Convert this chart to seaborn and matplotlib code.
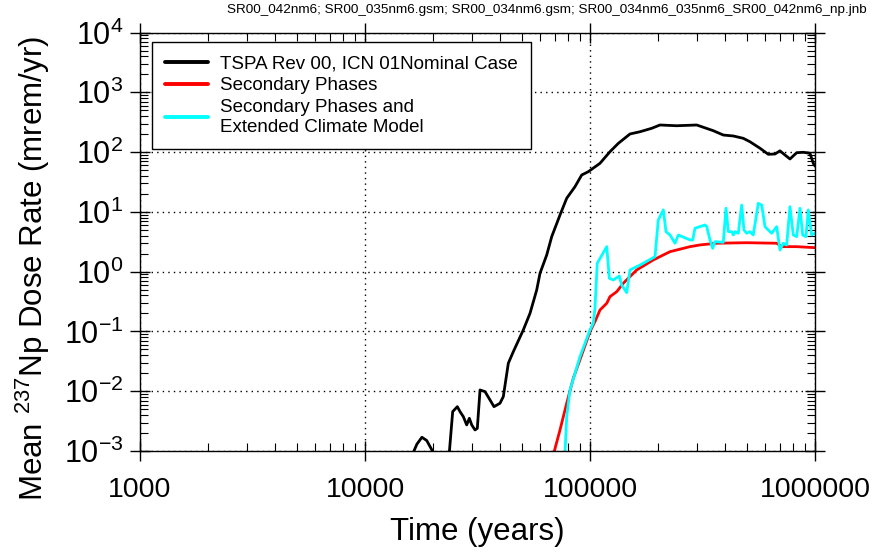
import numpy as np
import pandas as pd
import matplotlib
matplotlib.use("Agg")
import matplotlib.pyplot as plt
import matplotlib.ticker as mticker
import seaborn as sns

# ---- data ----
series_names = ["TSPA Rev 00, ICN 01Nominal Case",
                "Secondary Phases",
                "Secondary Phases and\nExtended Climate Model"]

nominal_seg1_t = [16400, 17000, 17900, 18800, 20100]
nominal_seg1_y = [0.00095, 0.0013, 0.0017, 0.0015, 0.00095]

nominal_seg2_t = [23700, 24530, 25720, 26440, 27350, 28310, 29090, 29810, 30830, 31560,
                  32450, 34150, 35940, 37440, 39810, 41180, 43350, 45620, 50530, 54120,
                  57960, 59950, 64210, 67580, 73560, 78790, 85770, 91860, 98260, 110800,
                  122700, 133600, 150600, 166800, 188000, 204700, 242800, 298100, 353200,
                  391300, 433600, 480200, 514100, 569600, 620000, 664000, 698900, 735500,
                  774300, 829400, 887200, 950100, 982700, 1000000]
nominal_seg2_y = [0.00095, 0.00456, 0.00552, 0.00456, 0.00376, 0.00273, 0.00353, 0.00273, 0.00225, 0.0024,
                  0.0105, 0.00985, 0.00715, 0.00552, 0.0063, 0.00813, 0.0294, 0.0459, 0.106, 0.201,
                  0.494, 0.94, 1.90, 3.85, 8.87, 16.9, 26.4, 41.4, 47.0, 65.0,
                  101.6, 140, 201, 219, 250, 284, 276, 284, 228,
                  193, 186, 170, 149, 116, 91.9, 92.9, 105, 89.5,
                  76.7, 97.7, 99.3, 95.5, 65, 58.6]

secondary_t = [69180, 73560, 78790, 84300, 91860, 100000, 105200, 110800, 118700, 122700,
               131500, 140600, 161300, 191100, 226800, 278300, 308300, 365700, 497100,
               675700, 711300, 829400, 1000000]
secondary_y = [0.00095, 0.00225, 0.0063, 0.0165, 0.0405, 0.0993, 0.146, 0.229, 0.296, 0.382,
               0.463, 0.640, 1.07, 1.57, 2.16, 2.62, 2.80, 2.99, 3.05,
               2.99, 2.62, 2.62, 2.52]

climate_t = [77430, 78790, 81500, 90290, 100000, 103400, 105200, 107700, 118700, 121900,
             127000, 134900, 138300, 145600, 150600, 166800, 194500, 201200, 211800, 217700,
             226800, 238700, 246900, 278300, 286100, 292900, 324400, 330100, 341500, 351000,
             359400, 391300, 402300, 411900, 426400, 433600, 441000, 456200, 472300, 483500,
             497100, 514100, 531800, 559800, 579700, 599500, 620000, 642100, 675700, 698900,
             723100, 748500, 774300, 801000, 829400, 857900, 881800, 912000, 933700, 966700,
             1000000]
climate_y = [0.00095, 0.00376, 0.0105, 0.0379, 0.106, 0.137, 0.244, 1.38, 2.62, 0.776,
             0.726, 0.847, 0.600, 0.446, 1.07, 1.29, 1.78, 7.32, 10.8, 4.67,
             4.11, 2.99, 4.11, 3.39, 3.39, 5.32, 6.04, 5.7, 3.39, 2.46,
             3.18, 3.1, 11.5, 4.67, 4.67, 4.11, 4.67, 4.39, 13.0, 4.98,
             4.39, 4.67, 4.11, 13.9, 13.0, 5.66, 4.98, 4.39, 5.66, 2.31,
             2.99, 2.80, 12.2, 4.11, 3.85, 11.5, 4.11, 3.85, 10.8, 4.11,
             4.39]

x_ticks = [1000, 10000, 100000, 1000000]
x_tick_labels = ["1000", "10000", "100000", "1000000"]
y_ticks = [1e-3, 1e-2, 1e-1, 1e0, 1e1, 1e2, 1e3, 1e4]

title_text = "SR00_042nm6; SR00_035nm6.gsm; SR00_034nm6.gsm; SR00_034nm6_035nm6_SR00_042nm6_np.jnb"

# ---- build long-form table ----
frames = [
    pd.DataFrame({"time": nominal_seg1_t, "dose": nominal_seg1_y, "series": series_names[0], "seg": "a"}),
    pd.DataFrame({"time": nominal_seg2_t, "dose": nominal_seg2_y, "series": series_names[0], "seg": "b"}),
    pd.DataFrame({"time": secondary_t, "dose": secondary_y, "series": series_names[1], "seg": "c"}),
    pd.DataFrame({"time": climate_t, "dose": climate_y, "series": series_names[2], "seg": "d"}),
]
df = pd.concat(frames, ignore_index=True)

sns.set_style("ticks")
plt.rcParams["font.family"] = ["Liberation Sans", "DejaVu Sans"]
plt.rcParams["mathtext.default"] = "regular"
plt.rcParams["text.color"] = "black"
plt.rcParams["axes.labelcolor"] = "black"
plt.rcParams["xtick.color"] = "black"
plt.rcParams["ytick.color"] = "black"

fig = plt.figure(figsize=(8.72, 5.56), dpi=100)
ax = fig.add_axes([0.1606, 0.1888, 0.9346 - 0.1606, 0.9415 - 0.1888])
ax.set_xscale("log")
ax.set_yscale("log")

palette = {series_names[0]: "#000000", series_names[1]: "#ff0000", series_names[2]: "#00ffff"}
sns.lineplot(data=df, x="time", y="dose", hue="series", units="seg", estimator=None,
             sort=False, palette=palette, linewidth=2.0, ax=ax, hue_order=series_names)

ax.set_xlim(1000, 1000000)
ax.set_ylim(1e-3, 1e4)

ax.xaxis.set_major_locator(mticker.FixedLocator(x_ticks))
ax.xaxis.set_major_formatter(mticker.FixedFormatter(x_tick_labels))
ax.xaxis.set_minor_locator(mticker.LogLocator(base=10, subs=np.arange(2, 10), numticks=20))
ax.xaxis.set_minor_formatter(mticker.NullFormatter())
ax.yaxis.set_major_locator(mticker.FixedLocator(y_ticks))
ax.yaxis.set_major_formatter(mticker.LogFormatterSciNotation())
ax.yaxis.set_minor_locator(mticker.LogLocator(base=10, subs=np.arange(2, 10), numticks=20))
ax.yaxis.set_minor_formatter(mticker.NullFormatter())

ax.tick_params(which="major", direction="inout", length=14, width=1.0,
               top=True, right=True, colors="black")
ax.tick_params(axis="x", which="major", pad=12, labelsize=20.5)
ax.tick_params(axis="y", which="major", pad=5, labelsize=22)
ax.tick_params(which="minor", direction="in", length=6, width=0.8, top=True, right=True)

for s in ax.spines.values():
    s.set_color("black")
    s.set_linewidth(1.0)

ax.grid(True, which="major", linestyle=(0, (1, 3)), color="black", linewidth=1.0)

ax.set_xlabel("Time (years)", fontsize=22.5, labelpad=10)
ax.set_ylabel("Mean $^{237}$Np Dose Rate (mrem/yr)", fontsize=22.5)
ax.yaxis.set_label_coords(-0.131, 0.435)

leg = ax.legend(loc="upper left", bbox_to_anchor=(0.0178, 0.977), borderaxespad=0,
                fontsize=13.5, frameon=True, fancybox=False, edgecolor="black", framealpha=1,
                handlelength=2.3, handletextpad=0.65, borderpad=0.7, labelspacing=0.25)
leg.get_frame().set_linewidth(1.0)
for line in leg.get_lines():
    line.set_linewidth(2.8)

fig.text(0.994, 0.992, title_text, ha="right", va="top", fontsize=9.7)

fig.savefig("out.png", dpi=100)
